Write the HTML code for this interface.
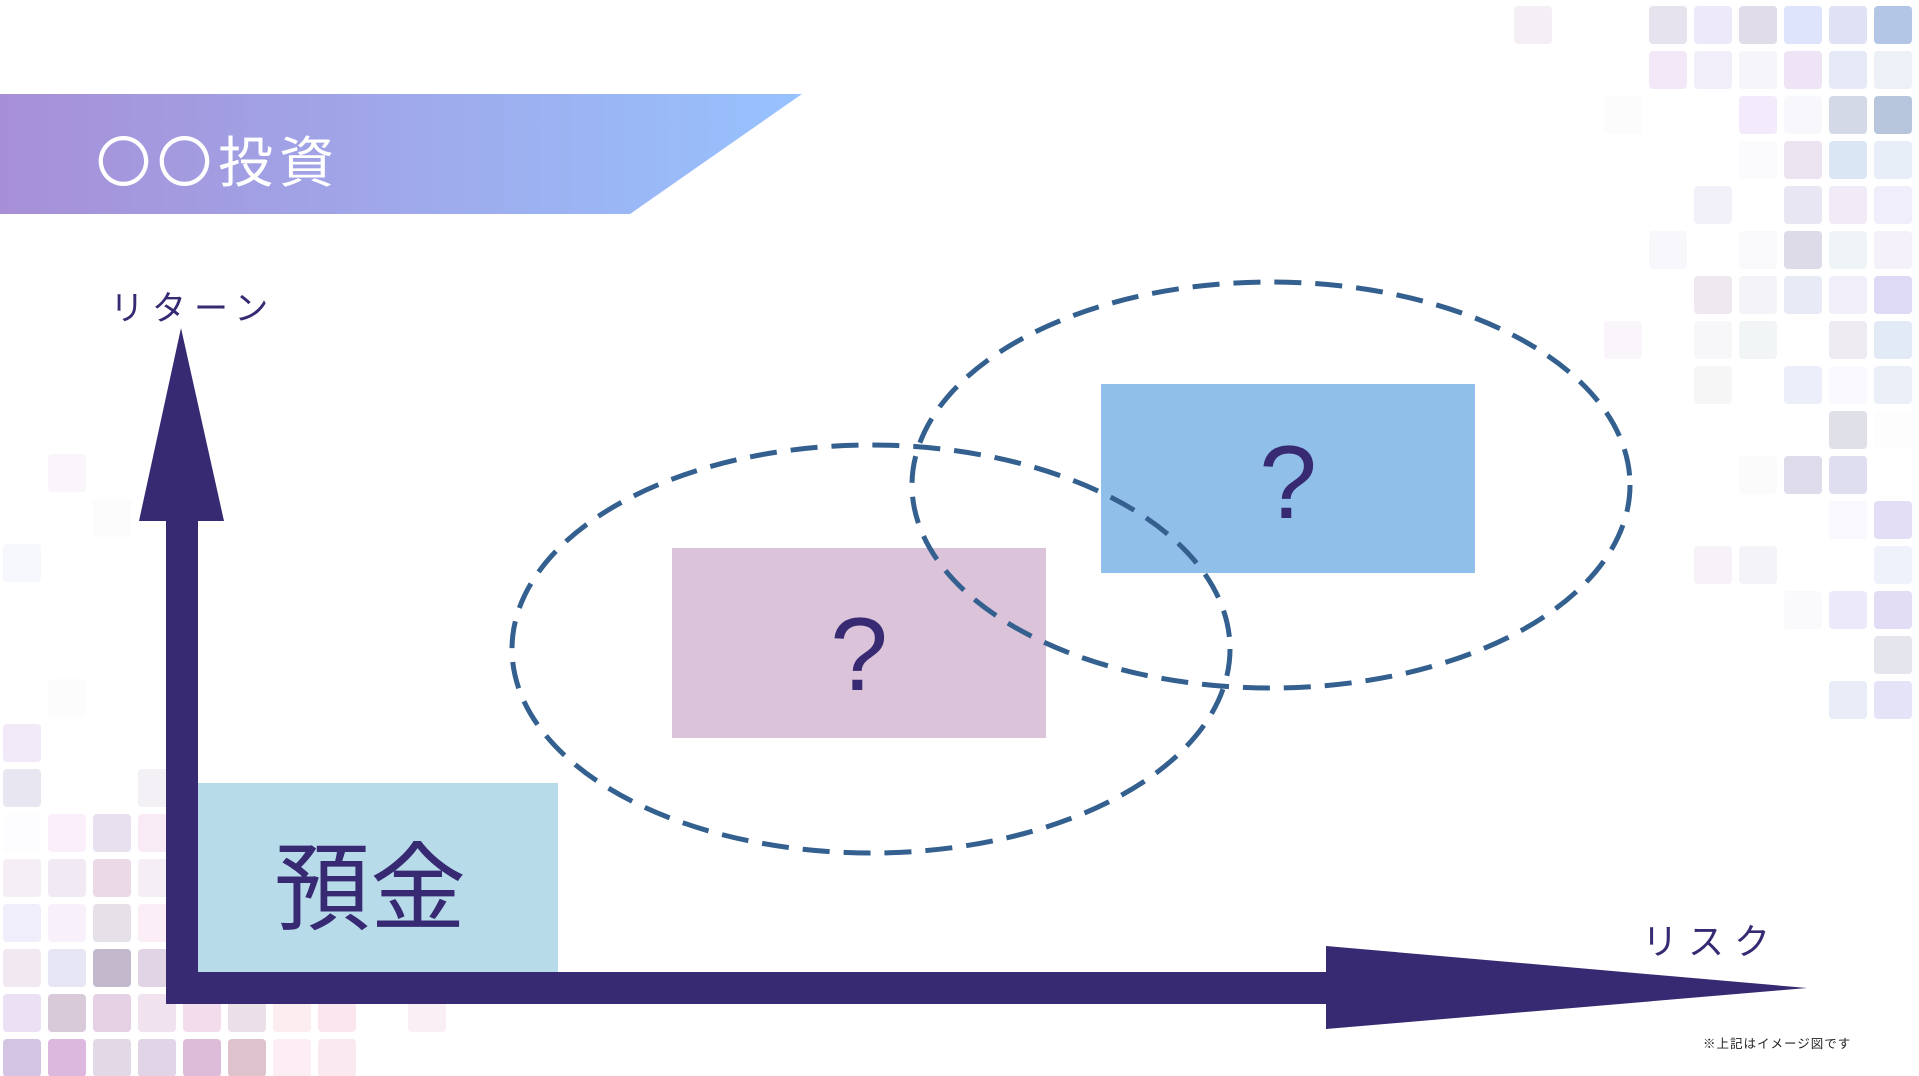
<!DOCTYPE html>
<html><head><meta charset="utf-8"><style>
html,body{margin:0;padding:0;background:#fff;}
body{width:1919px;height:1076px;overflow:hidden;position:relative;font-family:"Liberation Sans","Noto Sans CJK JP",sans-serif;}
svg{position:absolute;left:0;top:0;}
</style></head><body>
<svg width="1919" height="1076" viewBox="0 0 1919 1076" xmlns="http://www.w3.org/2000/svg">
<defs>
<linearGradient id="bg" x1="0" x2="1" y1="0" y2="0">
<stop offset="0" stop-color="#a78fd7"/><stop offset="1" stop-color="#97c2fe"/>
</linearGradient>
</defs>
<g id="rg"></g>
<g id="lg"></g>
<polygon points="0,94 802,94 630,214 0,214" fill="url(#bg)"/>
<text x="96" y="182" font-size="55" fill="#fff" letter-spacing="6" font-family="Liberation Sans,Noto Sans CJK JP,sans-serif">〇〇投資</text>
<rect x="198" y="783" width="360" height="190" fill="#b7dbe9"/>
<text x="370" y="922" font-size="96" fill="#372a73" text-anchor="middle" font-family="Liberation Sans,Noto Sans CJK JP,sans-serif">預金</text>
<rect x="672" y="548" width="374" height="190" fill="#dbc3da"/>
<rect x="1101" y="384" width="374" height="189" fill="#90c0ea"/>
<text x="859" y="690" font-size="104" fill="#372a73" text-anchor="middle" font-weight="300">?</text>
<text x="1288" y="518" font-size="104" fill="#372a73" text-anchor="middle" font-weight="300">?</text>
<ellipse cx="871" cy="649" rx="359" ry="204" fill="none" stroke="#34608f" stroke-width="5" stroke-dasharray="27,14"/>
<ellipse cx="1271" cy="485" rx="359" ry="203" fill="none" stroke="#34608f" stroke-width="5" stroke-dasharray="27,14"/>
<rect x="166" y="515" width="32" height="489" fill="#372a73"/>
<polygon points="181,328 224,521 139,521" fill="#372a73"/>
<rect x="166" y="972" width="1165" height="32" fill="#372a73"/>
<polygon points="1326,946 1807,988 1326,1029" fill="#372a73"/>
<text x="110" y="320" font-size="34" fill="#372a73" letter-spacing="8">リターン</text>
<text x="1642" y="954" font-size="36" fill="#372a73" letter-spacing="10">リスク</text>
<text x="1703" y="1048" font-size="12.5" fill="#222" letter-spacing="1">※上記はイメージ図です</text>
</svg>
<script>
var ns="http://www.w3.org/2000/svg";
function sq(g,x,y,c){var r=document.createElementNS(ns,"rect");r.setAttribute("x",x);r.setAttribute("y",y);r.setAttribute("width",38);r.setAttribute("height",38);r.setAttribute("rx",4);r.setAttribute("fill",c);g.appendChild(r);}
var R=[
["#e6e2ee","#ede9fb","#e0dcea","#dde4fc","#e1e1f6","#b3c6e6"],
["#f2e8f8","#f1eefa","#f6f5f9","#efe4f5","#e6eaf7","#edf0f7"],
[0,0,"#f3ebfb","#f8f7fb","#d3d9e6","#b7c6dc"],
[0,0,"#fbfbfd","#ebe3ef","#dbe6f5","#e8eef8"],
[0,"#f2f1fa",0,"#e8e6f2","#f1ebf7","#f1eefc"],
["#f7f7fc",0,"#f9f9fc","#dedbe9","#eff5f6","#f4f1fa"],
[0,"#efe8f0","#f4f3f8","#e8ebf6","#f1eef9","#dedaf5"],
[0,"#f7f7fa","#f1f5f6",0,"#eeebf3","#e2eaf6"],
[0,"#f6f6f7",0,"#eceef9","#faf9fd","#ebf0f8"],
[0,0,0,0,"#dfe0e8","#fdfdfe"],
[0,0,"#fbfbfc","#dedcea","#dfdef0",0],
[0,0,0,0,"#f8f8fd","#e3def6"],
[0,"#f6f2f8","#f4f3f7",0,0,"#eff1fb"],
[0,0,0,"#fafafd","#ece9fa","#e2ddf4"],
[0,0,0,0,0,"#e5e5ee"],
[0,0,0,0,"#e9edf8","#e5e3f7"]];
var g=document.getElementById("rg");
R.forEach(function(row,r){row.forEach(function(c,i){if(c)sq(g,1649+45*i,6+45*r,c);});});
sq(g,1514,6,"#f4eff4");sq(g,1604,321,"#f9f5fa");sq(g,1604,96,"#fcfcfc");
var L=[
[["#f2eaf8",0]],
[["#e8e6f0",0],["#f3f1f5",3]],
[["#fdfcfe",0],["#faeffa",1],["#e8e0ee",2],["#f9ebf5",3]],
[["#f5eef4",0],["#f1eaf4",1],["#ecd9e8",2],["#f5eff5",3]],
[["#efeefa",0],["#f8f1fb",1],["#e6e1e8",2],["#fbeef7",3]],
[["#f2e8f2",0],["#e6e6f4",1],["#c4b8cc",2],["#e1d5e5",3]],
[["#ece0f4",0],["#d9cad9",1],["#e6d0e4",2],["#f0e2ee",3],["#f3dcec",4],["#ece0e8",5],["#fcedf0",6],["#fbe6ef",7],["#fbeff6",9]],
[["#d3c4e3",0],["#dcb8df",1],["#e3d8e6",2],["#e0d4e6",3],["#dcbcd8",4],["#dec3cf",5],["#fdedf4",6],["#fbe9f1",7]]];
var h=document.getElementById("lg");
L.forEach(function(row,r){row.forEach(function(p){sq(h,3+45*p[1],724+45*r,p[0]);});});
sq(h,48,454,"#f9f5fa");sq(h,3,544,"#f7f7fe");sq(h,93,499,"#fcfcfd");sq(h,48,679,"#fcfcfc");
</script>
</body></html>
